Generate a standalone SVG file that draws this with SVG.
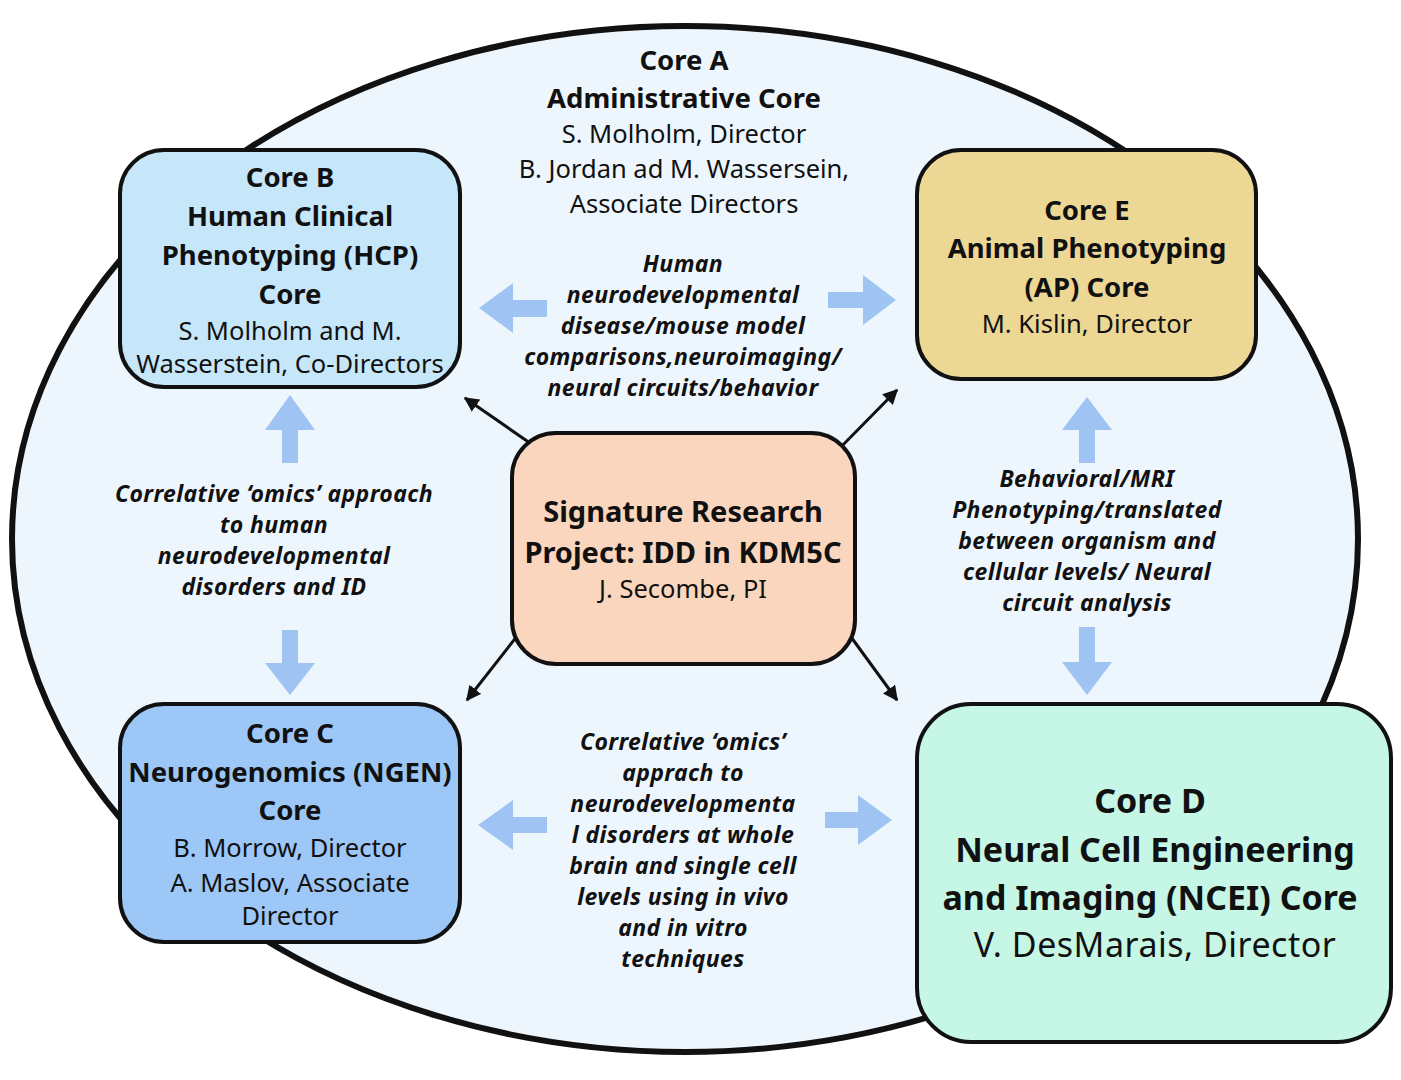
<svg xmlns="http://www.w3.org/2000/svg" width="1401" height="1080" viewBox="0 0 1401 1080">
<style>
text{font-family:"Noto Sans","Open Sans","DejaVu Sans",sans-serif;fill:#111;text-anchor:middle}
.t{font-weight:bold;font-size:27.5px}
.tc{font-weight:bold;font-size:29px}
.b{font-size:25.5px}
.td{font-weight:bold;font-size:34px}
.bd{font-size:34px;letter-spacing:0.5px}
.i{font-weight:bold;font-style:italic;font-size:23px;letter-spacing:0.4px}
.box{stroke:#111;stroke-width:4}
.ba{fill:#9fc4f3}
.ln{stroke:#111;stroke-width:3;fill:none}
</style>
<defs>
<marker id="ah" viewBox="0 0 10 10" refX="9" refY="5" markerWidth="5" markerHeight="5" orient="auto" markerUnits="strokeWidth">
<path d="M0,0 L10,5 L0,10 z" fill="#111"/>
</marker>
</defs>
<rect width="1401" height="1080" fill="#fff"/>
<g id="coreA">
<ellipse cx="685" cy="539" rx="673" ry="513" fill="#eef6fd" stroke="#111" stroke-width="6"/>
<text class="t" x="684" y="70">Core A</text>
<text class="t" x="684" y="108">Administrative Core</text>
<text class="b" x="684" y="143">S. Molholm, Director</text>
<text class="b" x="684" y="178">B. Jordan ad M. Wassersein,</text>
<text class="b" x="684" y="213">Associate Directors</text>
</g>
<g id="connectors">
<path class="ba" d="M479,308 L513,283 L513,300 L547,300 L547,317 L513,317 L513,333 z"/>
<path class="ba" d="M896,300 L863,275 L863,292 L828,292 L828,308 L863,308 L863,325 z"/>
<path class="ba" d="M290,395 L265,430 L282,430 L282,463 L298,463 L298,430 L315,430 z"/>
<path class="ba" d="M290,695 L265,663 L282,663 L282,630 L298,630 L298,663 L315,663 z"/>
<path class="ba" d="M1087,397 L1062,430 L1079,430 L1079,463 L1095,463 L1095,430 L1112,430 z"/>
<path class="ba" d="M1087,695 L1062,662 L1079,662 L1079,627 L1095,627 L1095,662 L1112,662 z"/>
<path class="ba" d="M478,825 L513,800 L513,817 L547,817 L547,833 L513,833 L513,850 z"/>
<path class="ba" d="M892,820 L858,795 L858,812 L825,812 L825,828 L858,828 L858,845 z"/>
<line class="ln" x1="540" y1="450" x2="465" y2="398" marker-end="url(#ah)"/>
<line class="ln" x1="835" y1="453" x2="897" y2="390" marker-end="url(#ah)"/>
<line class="ln" x1="525" y1="626" x2="467" y2="700" marker-end="url(#ah)"/>
<line class="ln" x1="843" y1="626" x2="897" y2="700" marker-end="url(#ah)"/>
<text class="i" x="683" y="272">Human</text>
<text class="i" x="683" y="303">neurodevelopmental</text>
<text class="i" x="683" y="334">disease/mouse model</text>
<text class="i" x="683" y="365">comparisons,neuroimaging/</text>
<text class="i" x="683" y="396">neural circuits/behavior</text>
<text class="i" x="274" y="502">Correlative ‘omics’ approach</text>
<text class="i" x="274" y="533">to human</text>
<text class="i" x="274" y="564">neurodevelopmental</text>
<text class="i" x="274" y="595">disorders and ID</text>
<text class="i" x="1087" y="487">Behavioral/MRI</text>
<text class="i" x="1087" y="518">Phenotyping/translated</text>
<text class="i" x="1087" y="549">between organism and</text>
<text class="i" x="1087" y="580">cellular levels/ Neural</text>
<text class="i" x="1087" y="611">circuit analysis</text>
<text class="i" x="683" y="750">Correlative ‘omics’</text>
<text class="i" x="683" y="781">apprach to</text>
<text class="i" x="683" y="812">neurodevelopmenta</text>
<text class="i" x="683" y="843">l disorders at whole</text>
<text class="i" x="683" y="874">brain and single cell</text>
<text class="i" x="683" y="905">levels using in vivo</text>
<text class="i" x="683" y="936">and in vitro</text>
<text class="i" x="683" y="967">techniques</text>
</g>
<g id="coreB">
<rect class="box" x="120" y="150" width="340" height="237" rx="44" fill="#c6e6fa"/>
<text class="t" x="290" y="187">Core B</text>
<text class="t" x="290" y="226">Human Clinical</text>
<text class="t" x="290" y="265">Phenotyping (HCP)</text>
<text class="t" x="290" y="304">Core</text>
<text class="b" x="290" y="340">S. Molholm and M.</text>
<text class="b" x="290" y="373">Wasserstein, Co-Directors</text>
</g>
<g id="coreE">
<rect class="box" x="917" y="150" width="339" height="229" rx="44" fill="#ecd795"/>
<text class="t" x="1087" y="220">Core E</text>
<text class="t" x="1087" y="258">Animal Phenotyping</text>
<text class="t" x="1087" y="297">(AP) Core</text>
<text class="b" x="1087" y="333">M. Kislin, Director</text>
</g>
<g id="signature">
<rect class="box" x="512" y="433" width="343" height="231" rx="44" fill="#fbd6be"/>
<text class="tc" x="683" y="522">Signature Research</text>
<text class="tc" x="683" y="563">Project: IDD in KDM5C</text>
<text class="b" x="683" y="598">J. Secombe, PI</text>
</g>
<g id="coreC">
<rect class="box" x="120" y="704" width="340" height="238" rx="44" fill="#9dc7f7"/>
<text class="t" x="290" y="743">Core C</text>
<text class="t" x="290" y="782">Neurogenomics (NGEN)</text>
<text class="t" x="290" y="820">Core</text>
<text class="b" x="290" y="857">B. Morrow, Director</text>
<text class="b" x="290" y="892">A. Maslov, Associate</text>
<text class="b" x="290" y="925">Director</text>
</g>
<g id="coreD">
<rect class="box" x="917" y="704" width="474" height="338" rx="54" fill="#c6f6e5"/>
<text class="td" x="1150" y="813">Core D</text>
<text class="td" x="1155" y="862">Neural Cell Engineering</text>
<text class="td" x="1150" y="910">and Imaging (NCEI) Core</text>
<text class="bd" x="1155" y="957">V. DesMarais, Director</text>
</g>
</svg>
